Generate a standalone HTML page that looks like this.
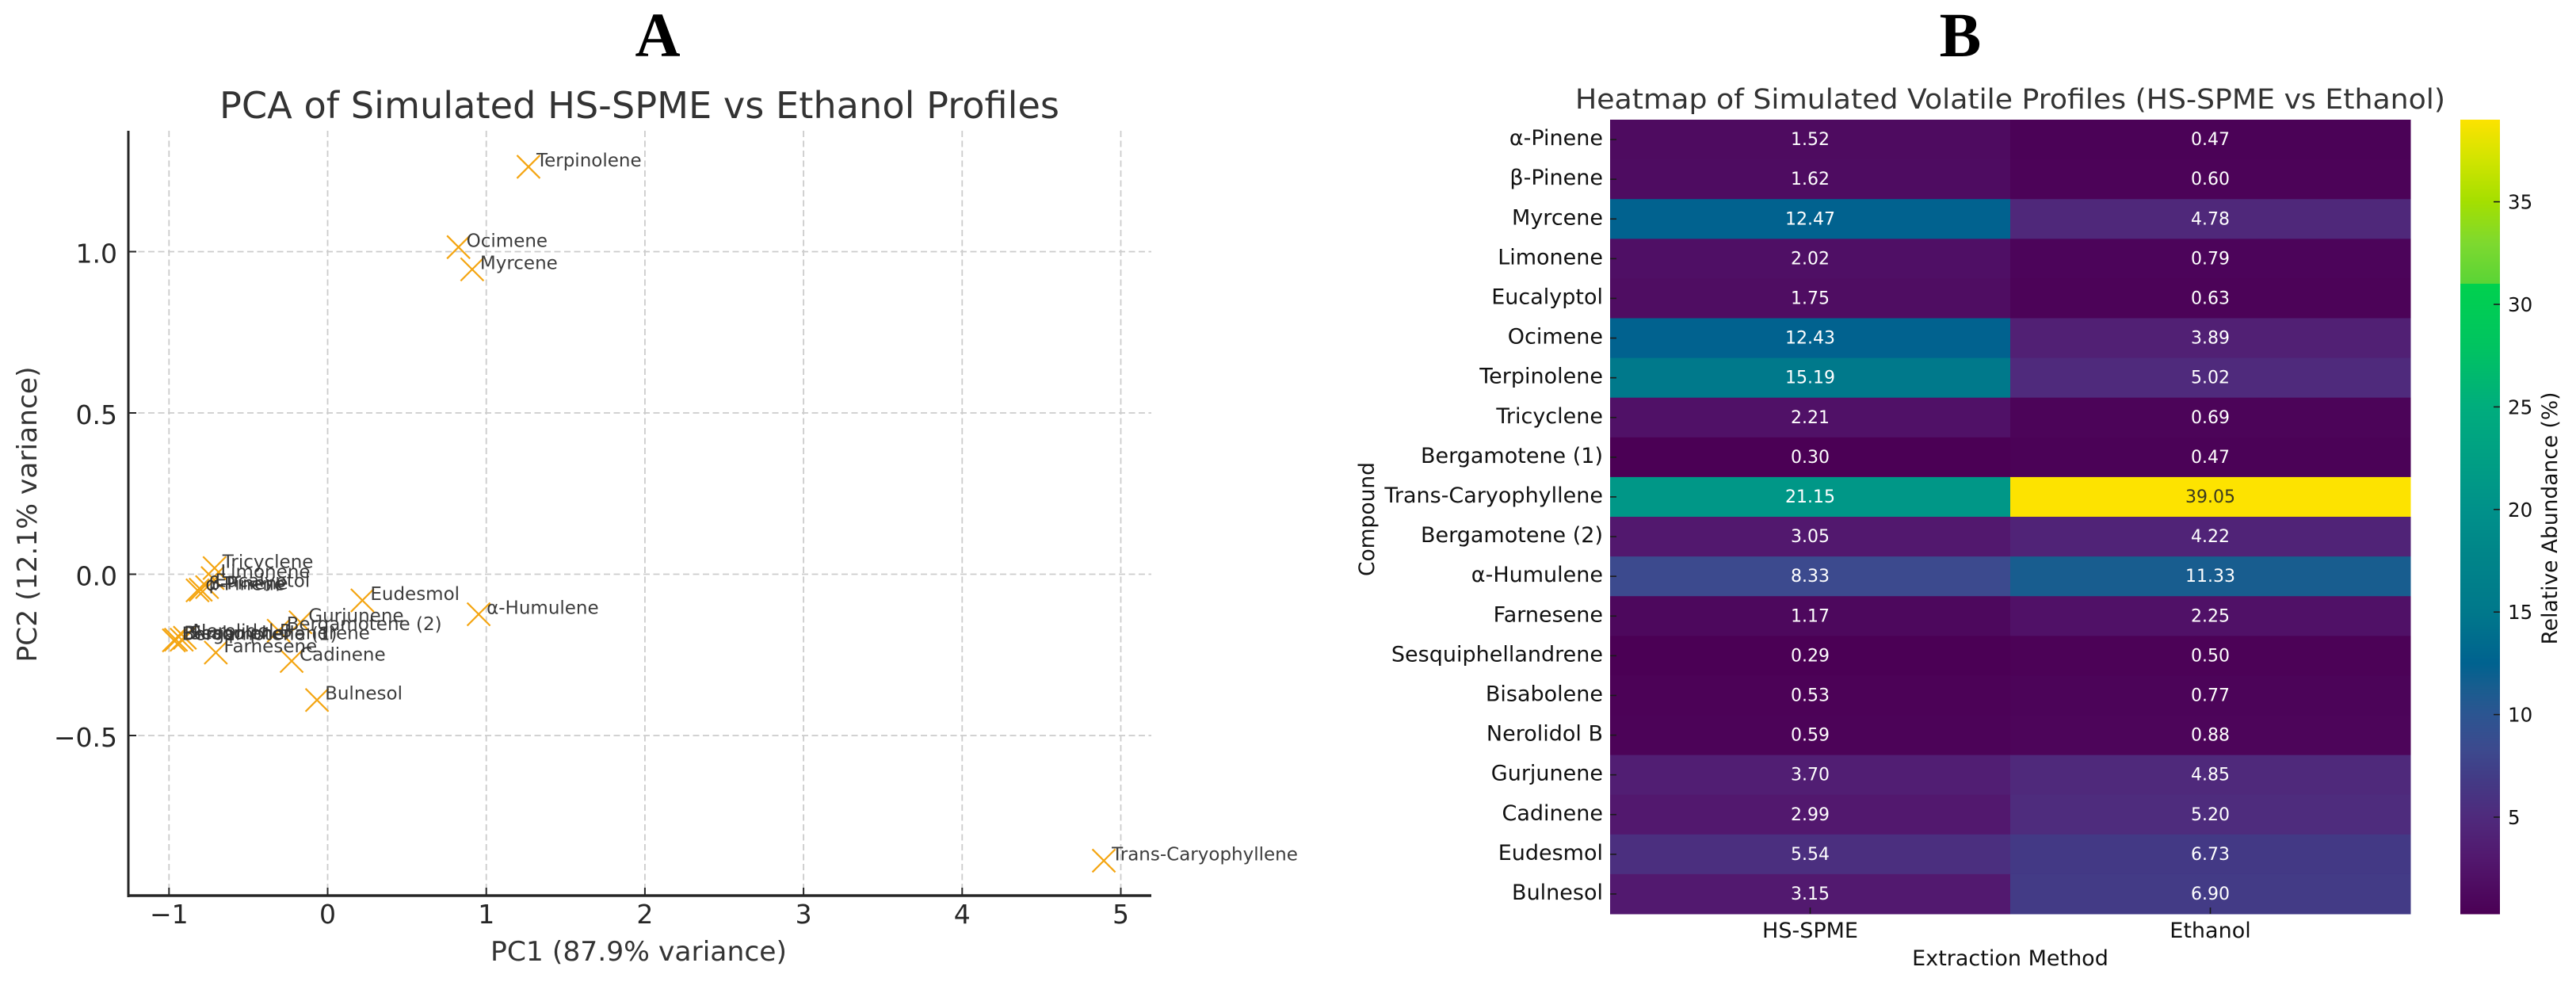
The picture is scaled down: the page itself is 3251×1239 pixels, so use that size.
<!DOCTYPE html>
<html lang="en">
<head>
<meta charset="utf-8">
<title>PCA and Heatmap of Simulated Volatile Profiles</title>
<style>
html,body{margin:0;padding:0;background:#fff;width:3251px;height:1239px;overflow:hidden}
svg{display:block}
text{font-family:"DejaVu Sans","Liberation Sans","Noto Sans CJK SC",sans-serif}
.serif{font-family:"Liberation Serif",serif;font-weight:bold}
</style>
</head>
<body>
<svg id="figure" xmlns="http://www.w3.org/2000/svg" width="3251" height="1239" viewBox="0 0 3251 1239">
  <rect x="0" y="0" width="3251" height="1239" fill="#ffffff"/>
  <text class="serif" x="830" y="71" font-size="79" text-anchor="middle" fill="#000">A</text>
  <text class="serif" x="2474" y="71" font-size="79" text-anchor="middle" fill="#000">B</text>
  <text x="807" y="149" font-size="46" text-anchor="middle" fill="#333" textLength="1060" lengthAdjust="spacingAndGlyphs">PCA of Simulated HS-SPME vs Ethanol Profiles</text>
  <text x="806" y="1212" font-size="34" text-anchor="middle" fill="#333" textLength="374" lengthAdjust="spacingAndGlyphs">PC1 (87.9% variance)</text>
  <text transform="translate(46,649) rotate(-90)" x="0" y="0" font-size="34" text-anchor="middle" fill="#333" textLength="373" lengthAdjust="spacingAndGlyphs">PC2 (12.1% variance)</text>
  <text x="2537" y="137" font-size="35" text-anchor="middle" fill="#333" textLength="1098" lengthAdjust="spacingAndGlyphs">Heatmap of Simulated Volatile Profiles (HS-SPME vs Ethanol)</text>
  <text x="2537" y="1218" font-size="27" text-anchor="middle" fill="#111">Extraction Method</text>
  <text transform="translate(1734,655) rotate(-90)" x="0" y="0" font-size="26.5" text-anchor="middle" fill="#111">Compound</text>
  <text transform="translate(3227,654) rotate(-90)" x="0" y="0" font-size="26.5" text-anchor="middle" fill="#111">Relative Abundance (%)</text>
  <g id="pca-grid"></g>
  <g id="pca-points"></g>
  <g id="pca-axes"></g>
  <g id="heatmap"></g>
  <g id="colorbar"></g>
</svg>
<script>
const compounds = ["α-Pinene","β-Pinene","Myrcene","Limonene","Eucalyptol","Ocimene","Terpinolene","Tricyclene","Bergamotene (1)","Trans-Caryophyllene","Bergamotene (2)","α-Humulene","Farnesene","Sesquiphellandrene","Bisabolene","Nerolidol B","Gurjunene","Cadinene","Eudesmol","Bulnesol"];
const methods = ["HS-SPME","Ethanol"];
const hsSpmeValues = [1.52,1.62,12.47,2.02,1.75,12.43,15.19,2.21,0.30,21.15,3.05,8.33,1.17,0.29,0.53,0.59,3.70,2.99,5.54,3.15];
const ethanolValues = [0.47,0.60,4.78,0.79,0.63,3.89,5.02,0.69,0.47,39.05,4.22,11.33,2.25,0.50,0.77,0.88,4.85,5.20,6.73,6.90];
const pc1Values = [-0.82,-0.80,0.911,-0.725,-0.76,0.825,1.266,-0.713,-0.969,4.893,-0.309,0.952,-0.705,-0.92,-0.956,-0.90,-0.171,-0.227,0.219,-0.067];
const pc2Values = [-0.05,-0.048,0.945,-0.012,-0.04,1.014,1.263,0.019,-0.205,-0.888,-0.175,-0.124,-0.243,-0.203,-0.203,-0.197,-0.149,-0.269,-0.081,-0.39];
const pcaXTicks = [-1,0,1,2,3,4,5];
const pcaYTicks = [-0.5,0,0.5,1];
const colorbarTicks = [5,10,15,20,25,30,35];
const colormapValues = [0.29,3,5,6.8,8.33,10,11.33,12.5,15,18,20,25,28,31,31.01,33,35,37,39.05];
const colormapColors = ["#4b0055","#52186e","#4f2a7c","#433a85","#3c4a8e","#2c5591","#185d8f","#00628f","#00788b","#008689","#00918a","#00ad7d","#00c460","#00d14e","#5ad436","#7ed92f","#a4df00","#d0e400","#fde300"];

const NS = 'http://www.w3.org/2000/svg';
function make(parent, tag, attrs, content) {
  const node = document.createElementNS(NS, tag);
  for (const key in attrs) node.setAttribute(key, attrs[key]);
  if (content !== undefined) node.textContent = content;
  parent.appendChild(node);
  return node;
}
const pcaX = v => 413.5 + 200.2 * v;
const pcaY = v => 724.5 - 407 * v;
const heatLeft = 2032, heatRight = 3042, heatTop = 151, heatBottom = 1153;
const rowHeight = (heatBottom - heatTop) / compounds.length;
const colWidth = (heatRight - heatLeft) / methods.length;
const rowY = i => heatTop + rowHeight * i;
const colX = j => heatLeft + colWidth * j;
const barLeft = 3105, barRight = 3155;
const barY = v => 1031 - 25.88 * (v - 5);
function hexToRgb(h) { return [1,3,5].map(i => parseInt(h.substr(i,2),16)); }
function colorFor(v) {
  const c = Math.max(colormapValues[0], Math.min(colormapValues[colormapValues.length-1], v));
  for (let i = 0; i < colormapValues.length - 1; i++) {
    if (c <= colormapValues[i+1]) {
      const t = (c - colormapValues[i]) / (colormapValues[i+1] - colormapValues[i]);
      const a = hexToRgb(colormapColors[i]), b = hexToRgb(colormapColors[i+1]);
      return 'rgb(' + a.map((x,k) => Math.round(x + (b[k]-x)*t)).join(',') + ')';
    }
  }
  return colormapColors[colormapColors.length-1];
}
function fmtTick(v, digits) {
  const s = Math.abs(v).toFixed(digits);
  return (v < 0 ? '\u2212' : '') + s;
}

/* PCA grid */
const gridG = document.getElementById('pca-grid');
pcaXTicks.forEach(t => {
  const line = make(gridG, 'line', {x1:pcaX(t), x2:pcaX(t), y1:165, y2:1130, stroke:'#cccccc', 'stroke-width':1.8, 'stroke-dasharray':'8 4.5'});
  
  
});
pcaYTicks.forEach(t => {
  const line = make(gridG, 'line', {x1:162, x2:1453, y1:pcaY(t), y2:pcaY(t), stroke:'#cccccc', 'stroke-width':1.8, 'stroke-dasharray':'8 4.5'});
  
  
});

/* PCA points */
const pointsG = document.getElementById('pca-points');
compounds.forEach((name, i) => {
  const cx = pcaX(pc1Values[i]), cy = pcaY(pc2Values[i]);
  const mark = make(pointsG, 'path', {d:`M${cx-14.5} ${cy-14.5}L${cx+14.5} ${cy+14.5}M${cx-14.5} ${cy+14.5}L${cx+14.5} ${cy-14.5}`, stroke:'#f4a511', 'stroke-width':2.2, fill:'none'});
  
  
});
compounds.forEach((name, i) => {
  const cx = pcaX(pc1Values[i]), cy = pcaY(pc2Values[i]);
  const label = make(pointsG, 'text', {x:cx+10, y:cy-0.5, 'font-size':23, fill:'#333', 'fill-opacity':0.95}, name);
  
  
});

/* PCA axes */
const axesG = document.getElementById('pca-axes');
const leftSpine = make(axesG, 'line', {x1:162, x2:162, y1:165, y2:1132, stroke:'#262626', 'stroke-width':3});


const bottomSpine = make(axesG, 'line', {x1:161, x2:1453, y1:1130, y2:1130, stroke:'#262626', 'stroke-width':3.5});


pcaXTicks.forEach(t => {
  const tick = make(axesG, 'line', {x1:pcaX(t), x2:pcaX(t), y1:1120, y2:1130, stroke:'#262626', 'stroke-width':2});
  
  
  const lab = make(axesG, 'text', {x:pcaX(t), y:1165, 'font-size':33, 'text-anchor':'middle', fill:'#262626'}, fmtTick(t, 0));
  
  
});
pcaYTicks.forEach(t => {
  const tick = make(axesG, 'line', {x1:162, x2:172, y1:pcaY(t), y2:pcaY(t), stroke:'#262626', 'stroke-width':2});
  
  
  const lab = make(axesG, 'text', {x:148, y:pcaY(t)+14, 'font-size':33, 'text-anchor':'end', fill:'#262626'}, fmtTick(t, 1));
  
  
});

/* Heatmap */
const heatG = document.getElementById('heatmap');
const heatRows = [hsSpmeValues, ethanolValues];
compounds.forEach((name, i) => {
  heatRows.forEach((series, j) => {
    const v = series[i];
    const cell = make(heatG, 'rect', {x:colX(j), y:rowY(i), width:colWidth+0.5, height:rowHeight+0.5, fill:colorFor(v)});
    
    
  });
});
compounds.forEach((name, i) => {
  heatRows.forEach((series, j) => {
    const v = series[i];
    const val = make(heatG, 'text', {x:colX(j)+colWidth/2, y:rowY(i)+rowHeight/2+7, 'font-size':22, 'text-anchor':'middle', fill: v > 30 ? '#3a3a20' : '#ffffff'}, v.toFixed(2));
    
    
  });
  const tick = make(heatG, 'line', {x1:heatLeft, x2:heatLeft+8, y1:rowY(i)+rowHeight/2, y2:rowY(i)+rowHeight/2, stroke:'#1a1a1a', 'stroke-width':1.6});
  
  
  const lab = make(heatG, 'text', {x:2023, y:rowY(i)+rowHeight/2+7, 'font-size':27, 'text-anchor':'end', fill:'#111'}, name);
  
  
});
methods.forEach((m, j) => {
  const cx = colX(j) + colWidth/2;
  const tick = make(heatG, 'line', {x1:cx, x2:cx, y1:heatBottom-8, y2:heatBottom, stroke:'#1a1a1a', 'stroke-width':1.6});
  
  
  const lab = make(heatG, 'text', {x:cx, y:1183, 'font-size':27, 'text-anchor':'middle', fill:'#111'}, m);
  
  
});

/* Colorbar */
const barG = document.getElementById('colorbar');
for (let y = heatTop; y < heatBottom; y++) {
  const v = 5 + (1031 - (y + 0.5)) / 25.88;
  const strip = make(barG, 'rect', {x:barLeft, y:y, width:barRight-barLeft, height:1.5, fill:colorFor(v)});
  
  
}
colorbarTicks.forEach(t => {
  const tick = make(barG, 'line', {x1:barRight-8, x2:barRight, y1:barY(t), y2:barY(t), stroke:'#1a1a1a', 'stroke-width':1.6});
  
  
  const lab = make(barG, 'text', {x:3165, y:barY(t)+9, 'font-size':24.5, fill:'#111'}, String(t));
  
  
});
</script>
</body>
</html>
